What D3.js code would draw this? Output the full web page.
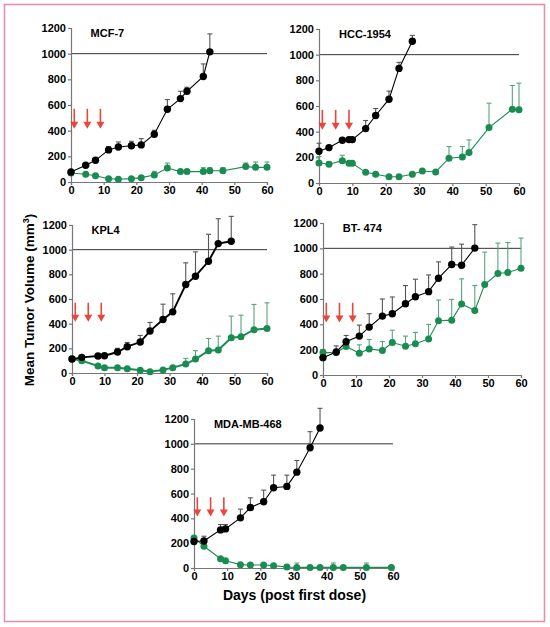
<!DOCTYPE html>
<html><head><meta charset="utf-8">
<script src="https://cdn.jsdelivr.net/npm/d3@7/dist/d3.min.js"></script>
<style>
body{margin:0;background:#fff}
svg{display:block}
text{font-family:"Liberation Sans",Arial,Helvetica,sans-serif;font-weight:bold;fill:#000}
</style>
</head><body>
<svg id="chart" width="550" height="627"></svg>
<script>
// ---------- data ----------
const xTicks = [0, 10, 20, 30, 40, 50, 60];
const yTicks = [0, 200, 400, 600, 800, 1000, 1200];
const doseDays = [1, 5, 9];
const thresholdValue = 1000;
const panelNames = ["MCF-7", "HCC-1954", "KPL4", "BT- 474", "MDA-MB-468"];

// MCF-7
const mcfCtrlDays = [0, 4.5, 7.5, 11.5, 14.5, 18.5, 21.5, 25.5, 29.5, 33.5, 35.5, 40.5, 42.5];
const mcfCtrlMean = [78, 130, 169, 250, 273, 283, 289, 372, 567, 650, 707, 822, 1014];
const mcfCtrlErr  = [8, 12, 12, 26, 39, 34, 49, 31, 75, 57, 31, 98, 140];
const mcfTrtDays  = [0, 4.5, 7.5, 11.5, 14.5, 18.5, 21.5, 25.5, 29.5, 33.5, 35.5, 40.5, 42.5, 46.5, 53.5, 56.5, 60];
const mcfTrtMean  = [70, 60, 49, 26, 21, 26, 34, 55, 109, 81, 81, 81, 88, 88, 120, 114, 114];
const mcfTrtErr   = [10, 8, 8, 8, 8, 8, 10, 28, 39, 15, 15, 31, 24, 24, 28, 42, 42];

// HCC-1954
const hccCtrlDays = [0, 3, 7, 9, 10, 14, 17, 21, 24, 28];
const hccCtrlMean = [247, 276, 333, 338, 338, 424, 526, 653, 893, 1104];
const hccCtrlErr  = [63, 10, 15, 10, 10, 63, 54, 63, 47, 46];
const hccTrtDays  = [0, 3, 7, 9, 10, 14, 17, 21, 24, 28, 31, 35, 39, 43, 45, 51, 58, 60];
const hccTrtMean  = [156, 146, 174, 154, 154, 83, 68, 49, 49, 68, 94, 86, 193, 203, 237, 432, 575, 570];
const hccTrtErr   = [50, 20, 42, 15, 15, 10, 8, 8, 8, 10, 10, 10, 91, 81, 99, 190, 185, 208];

// KPL4
const kplCtrlDays = [0, 3, 8, 10, 14, 17, 21, 24, 28, 31, 35, 38, 42, 45, 49];
const kplCtrlMean = [113, 127, 138, 140, 170, 213, 251, 340, 434, 496, 717, 785, 906, 1049, 1068];
const kplCtrlErr  = [10, 10, 10, 10, 30, 35, 54, 70, 124, 146, 176, 197, 219, 202, 202];
const kplTrtDays  = [0, 3, 8, 10, 14, 17, 21, 24, 28, 31, 35, 38, 42, 45, 49, 52, 56, 60];
const kplTrtMean  = [113, 100, 57, 43, 43, 35, 22, 11, 24, 43, 73, 113, 181, 186, 286, 294, 351, 361];
const kplTrtErr   = [10, 8, 8, 8, 8, 8, 8, 8, 8, 15, 46, 68, 99, 113, 175, 175, 205, 208];

// BT-474
const btCtrlDays = [0, 4, 7, 11, 14, 18, 21, 25, 28, 32, 35, 39, 42, 46];
const btCtrlMean = [137, 182, 262, 307, 378, 465, 484, 563, 618, 658, 764, 872, 867, 1002];
const btCtrlErr  = [10, 48, 50, 87, 106, 135, 132, 143, 138, 132, 129, 138, 166, 185];
const btTrtDays  = [0, 4, 7, 11, 14, 18, 21, 25, 28, 32, 35, 39, 42, 46, 49, 53, 56, 60];
const btTrtMean  = [177, 177, 225, 172, 206, 193, 256, 227, 246, 285, 428, 433, 560, 510, 714, 801, 809, 843];
const btTrtErr   = [25, 10, 40, 66, 74, 71, 98, 80, 90, 114, 164, 164, 199, 196, 256, 240, 237, 238];

// MDA-MB-468
const mdaCtrlDays = [0, 3, 8, 9.5, 14, 17, 21, 24, 28, 31, 35, 38];
const mdaCtrlMean = [213, 218, 307, 315, 404, 487, 533, 646, 657, 772, 969, 1128];
const mdaCtrlErr  = [20, 38, 43, 35, 70, 78, 94, 102, 91, 94, 129, 158];
const mdaTrtDays  = [0, 3, 8, 9.5, 14, 17, 21, 24, 28, 31, 35, 38, 42, 45, 52, 59.5];
const mdaTrtMean  = [242, 175, 75, 59, 27, 24, 24, 19, 8, 5, 5, 5, 5, 5, 5, 5];
const mdaTrtErr   = [15, 10, 8, 8, 8, 8, 8, 8, 20, 35, 5, 5, 35, 5, 35, 5];

// ---------- layout (positions / styles, not data) ----------
const layout = [
  {x: 71,  y: 28,  w: 196, h: 154, lw: 1.1},
  {x: 319, y: 29,  w: 200, h: 154, lw: 1.1},
  {x: 72,  y: 225, w: 195, h: 148, lw: 1.9},
  {x: 323, y: 223, w: 198, h: 152, lw: 1.1},
  {x: 194, y: 419, w: 199, h: 149, lw: 1.1}
];
const ctrlColor = "#000", ctrlErrColor = "#555";
const trtColor = "#1a8c52", trtErrColor = "#55a57c";
const arrowColor = "#e8473b";

const zip = (d, m, e) => d.map((v, i) => ({day: v, mean: m[i], err: e[i]}));
const panels = [
  {ctrl: zip(mcfCtrlDays, mcfCtrlMean, mcfCtrlErr), trt: zip(mcfTrtDays, mcfTrtMean, mcfTrtErr)},
  {ctrl: zip(hccCtrlDays, hccCtrlMean, hccCtrlErr), trt: zip(hccTrtDays, hccTrtMean, hccTrtErr)},
  {ctrl: zip(kplCtrlDays, kplCtrlMean, kplCtrlErr), trt: zip(kplTrtDays, kplTrtMean, kplTrtErr)},
  {ctrl: zip(btCtrlDays, btCtrlMean, btCtrlErr),   trt: zip(btTrtDays, btTrtMean, btTrtErr)},
  {ctrl: zip(mdaCtrlDays, mdaCtrlMean, mdaCtrlErr), trt: zip(mdaTrtDays, mdaTrtMean, mdaTrtErr)}
];

const svg = d3.select("#chart");

// outer pink frame
svg.append("rect").attr("x", 4.5).attr("y", 4.5).attr("width", 540).attr("height", 617)
  .attr("fill", "none").attr("stroke", "#e690b0").attr("stroke-width", 1.6);

panels.forEach((p, i) => {
  const L = layout[i];
  const g = svg.append("g").attr("transform", `translate(${L.x},${L.y})`);
  const x = d3.scaleLinear().domain([0, 60]).range([0, L.w]);
  const y = d3.scaleLinear().domain([0, 1200]).range([L.h, 0]);

  // threshold line
  g.append("line").attr("x1", x(0)).attr("x2", x(60))
    .attr("y1", y(thresholdValue)).attr("y2", y(thresholdValue))
    .attr("stroke", "#333").attr("stroke-width", 1);

  // axes
  const yAx = g.append("g").call(d3.axisLeft(y).tickValues(yTicks).tickFormat(d3.format("d")).tickSize(3).tickPadding(2));
  const xAx = g.append("g").attr("transform", `translate(0,${L.h})`)
    .call(d3.axisBottom(x).tickValues(xTicks).tickFormat(d3.format("d")).tickSize(3).tickPadding(1));
  [yAx, xAx].forEach(a => {
    a.select(".domain").attr("stroke", "#777").attr("stroke-width", 1.2);
    a.selectAll(".tick line").attr("stroke", "#777").attr("stroke-width", 1.2);
    a.selectAll("text").attr("font-size", 11).attr("font-weight", "bold")
      .attr("font-family", "'Liberation Sans', Arial, sans-serif").attr("fill", "#000");
  });

  // title
  g.append("text").attr("x", x(6)).attr("y", y(1130)).attr("font-size", 11).text(panelNames[i]);

  // dose arrows
  doseDays.forEach(dd => {
    const ax = x(dd), top = y(570), tip = y(415);
    g.append("line").attr("x1", ax).attr("x2", ax).attr("y1", top).attr("y2", tip - 5)
      .attr("stroke", arrowColor).attr("stroke-width", 1.6);
    g.append("path").attr("d", `M${ax - 4},${tip - 7}L${ax + 4},${tip - 7}L${ax},${tip}Z`)
      .attr("fill", arrowColor);
  });

  const line = d3.line().x(d => x(d.day)).y(d => y(d.mean));

  [[p.trt, trtColor, trtErrColor, 3.5], [p.ctrl, ctrlColor, ctrlErrColor, 3.7]].forEach(([data, col, ecol, r]) => {
    const eb = g.append("g");
    data.forEach(d => {
      eb.append("line").attr("x1", x(d.day)).attr("x2", x(d.day))
        .attr("y1", y(d.mean)).attr("y2", y(d.mean + d.err))
        .attr("stroke", ecol).attr("stroke-width", 1.1);
      eb.append("line").attr("x1", x(d.day) - 2.5).attr("x2", x(d.day) + 2.5)
        .attr("y1", y(d.mean + d.err)).attr("y2", y(d.mean + d.err))
        .attr("stroke", ecol).attr("stroke-width", 1.1);
    });
    g.append("path").datum(data).attr("d", line).attr("fill", "none")
      .attr("stroke", col).attr("stroke-width", L.lw);
    g.append("g").selectAll("circle").data(data).join("circle")
      .attr("cx", d => x(d.day)).attr("cy", d => y(d.mean)).attr("r", r).attr("fill", col);
  });
});

// axis titles
const yl = svg.append("text").attr("transform", "translate(34,300) rotate(-90)")
  .attr("text-anchor", "middle").attr("font-size", 13.5);
yl.append("tspan").text("Mean Tumor Volume (mm");
yl.append("tspan").attr("font-size", 9).attr("dy", -5).text("3");
yl.append("tspan").attr("dy", 5).text(")");

svg.append("text").attr("x", 294.5).attr("y", 600).attr("text-anchor", "middle")
  .attr("font-size", 14).text("Days (post first dose)");
</script>
</body></html>
